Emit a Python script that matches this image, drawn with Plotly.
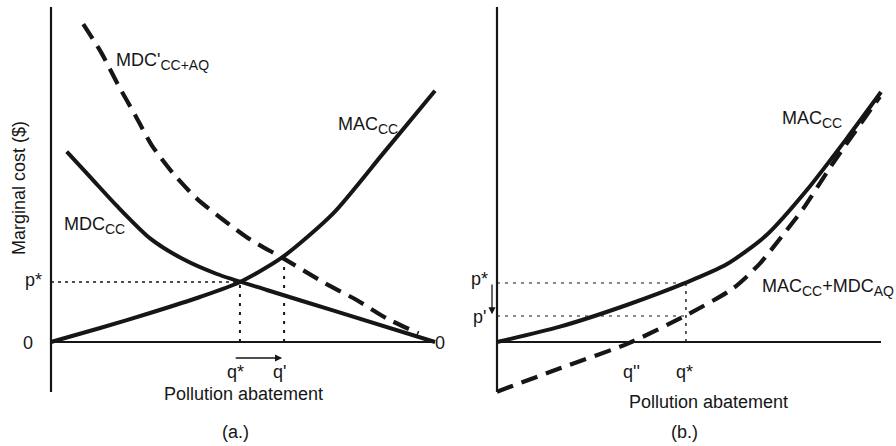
import plotly.graph_objects as go

W, H = 896, 446

# ---------------- data (abstract units) ----------------
# Panel (a)
abate_a_mac = [0, 1.28, 2.58, 3.88, 4.92, 6.01, 7.35, 8.65, 10.0]
mac_cc_a = [0, 0.42, 0.87, 1.35, 1.8, 2.53, 3.86, 5.66, 7.54]

abate_a_mdc = [0.41, 1.06, 1.71, 2.58, 3.45, 4.32, 5.62, 7.34, 10.0]
mdc_cc_a = [5.71, 4.9, 4.09, 3.11, 2.48, 2.04, 1.56, 0.95, 0]

abate_a_mdc2 = [0.84, 1.32, 1.75, 2.19, 2.62, 3.18, 3.79, 4.49, 5.18, 6.05, 7.14, 7.96, 8.74, 9.57]
mdc2_cc_aq_a = [9.54, 8.66, 7.71, 6.81, 5.91, 5.06, 4.31, 3.66, 3.08, 2.51, 1.76, 1.26, 0.71, 0.26]

p_star_a = 1.8
q_star_a = 4.92
q_prime_a = 6.07
p_prime_a = 2.54

# Panel (b)
abate_b_mac = [0, 1.64, 3.38, 4.92, 5.98, 7.02, 8.07, 9.11, 10.0]
mac_cc_b = [0, 0.46, 1.11, 1.78, 2.33, 3.21, 4.56, 6.11, 7.5]

abate_b_sum = [0, 1.64, 3.42, 4.94, 6.15, 6.85, 7.41, 7.98, 8.7, 9.97]
mac_mdc_b = [-1.49, -0.79, -0.04, 0.81, 1.61, 2.36, 3.16, 4.01, 5.28, 7.36]

p_star_b = 1.77
p_prime_b = 0.78
q_star_b = 4.92

x_axis_len = 10.0
y_axis_top = 10.05
y_axis_bottom = -1.5

# ---------------- layout geometry ----------------
PX_X = 38.4   # px per x unit
PX_Y = 33.33  # px per y unit
ORIGIN_Y = 342
A_X0, B_X0 = 51, 497
XR = [-0.25, 10.35]
YR = [-1.6, 10.2]

def xdomain(x0):
    return [(x0 + XR[0] * PX_X) / W, (x0 + XR[1] * PX_X) / W]

ydom = [(H - (ORIGIN_Y - YR[0] * PX_Y)) / H, (H - (ORIGIN_Y - YR[1] * PX_Y)) / H]

def P(px, py):
    return px / W, 1 - py / H

INK = "#161616"
FONT = "Liberation Sans, Arial, sans-serif"
FS = 18

def sub(t):
    return f"<sub><span style='font-size:14px'>{t}</span></sub>"

fig = go.Figure()

def line(x, y, xa, ya, width=4, dash="solid"):
    fig.add_trace(go.Scatter(x=x, y=y, xaxis=xa, yaxis=ya, mode="lines",
                             line=dict(color=INK, width=width, dash=dash, shape="spline", smoothing=0.7),
                             hoverinfo="skip", showlegend=False))

def straight(x, y, xa, ya, width=1.6, dash="2px,4px"):
    fig.add_trace(go.Scatter(x=x, y=y, xaxis=xa, yaxis=ya, mode="lines",
                             line=dict(color=INK, width=width, dash=dash),
                             hoverinfo="skip", showlegend=False))

# axes as lines (both panels)
for xa, ya in (("x", "y"), ("x2", "y2")):
    straight([0, 0], [y_axis_bottom, y_axis_top], xa, ya, width=2.2, dash="solid")
    straight([0, x_axis_len], [0, 0], xa, ya, width=2.2, dash="solid")

# panel (a) reference lines
straight([0, q_star_a], [p_star_a, p_star_a], "x", "y", width=1.3, dash="3px,4px")
straight([q_star_a, q_star_a], [0, p_star_a], "x", "y", width=2, dash="3px,6px")
straight([q_prime_a, q_prime_a], [0, p_prime_a], "x", "y", width=2, dash="3px,6px")

# panel (a) curves
line(abate_a_mdc2, mdc2_cc_aq_a, "x", "y", width=4.2, dash="17px,9px")
line(abate_a_mdc, mdc_cc_a, "x", "y", width=4)
line(abate_a_mac, mac_cc_a, "x", "y", width=4)

# panel (b) reference lines
straight([0, q_star_b], [p_star_b, p_star_b], "x2", "y2", width=1.2, dash="3px,5px")
straight([0, q_star_b], [p_prime_b, p_prime_b], "x2", "y2", width=1.2, dash="3px,5px")
straight([q_star_b, q_star_b], [0, p_star_b], "x2", "y2", width=1.4, dash="3px,5px")

# panel (b) curves
line(abate_b_sum, mac_mdc_b, "x2", "y2", width=4.2, dash="17px,9px")
line(abate_b_mac, mac_cc_b, "x2", "y2", width=4)

ax_common = dict(showgrid=False, zeroline=False, showline=False, showticklabels=False,
                 ticks="", fixedrange=True)
fig.update_layout(
    width=W, height=H, margin=dict(l=0, r=0, t=0, b=0),
    paper_bgcolor="white", plot_bgcolor="white",
    font=dict(family=FONT, size=FS, color=INK),
    xaxis=dict(domain=xdomain(A_X0), range=XR, anchor="y", **ax_common),
    yaxis=dict(domain=ydom, range=YR, anchor="x", **ax_common),
    xaxis2=dict(domain=xdomain(B_X0), range=XR, anchor="y2", **ax_common),
    yaxis2=dict(domain=ydom, range=YR, anchor="x2", **ax_common),
)

def text(px, py, s, xanchor="center", yanchor="middle", angle=0, size=FS):
    x, y = P(px, py)
    fig.add_annotation(x=x, y=y, xref="paper", yref="paper", text=s, showarrow=False,
                       xanchor=xanchor, yanchor=yanchor, textangle=angle,
                       font=dict(size=size, family=FONT, color=INK))

# panel (a) labels
text(19, 188, "Marginal cost ($)", angle=-90)
text(33, 280, "p*")
text(28, 343, "0")
text(440, 343, "0")
text(235, 372, "q*")
text(279, 372, "q'")
text(244, 394, "Pollution abatement")
text(235, 432, "(a.)")
text(114, 62, "MDC'" + sub("CC+AQ"), xanchor="left")
text(336, 125, "MAC" + sub("CC"), xanchor="left")
text(62, 225, "MDC" + sub("CC"), xanchor="left")

# panel (b) labels
text(479, 279, "p*")
text(479, 317, "p'")
text(631, 372, "q''")
text(684, 372, "q*")
text(708, 402, "Pollution abatement")
text(684, 432, "(b.)")
text(780, 119, "MAC" + sub("CC"), xanchor="left")
text(760, 287, "MAC" + sub("CC") + "+MDC" + sub("AQ"), xanchor="left")

# arrows
fig.add_annotation(x=q_prime_a - 0.05, y=-0.48, ax=q_star_a - 0.15, ay=-0.48,
                   xref="x", yref="y", axref="x", ayref="y", text="", showarrow=True,
                   arrowhead=2, arrowsize=1.1, arrowwidth=1.3, arrowcolor=INK)
fig.add_annotation(x=-0.13, y=p_prime_b + 0.05, ax=-0.13, ay=p_star_b,
                   xref="x2", yref="y2", axref="x2", ayref="y2", text="", showarrow=True,
                   arrowhead=2, arrowsize=1.1, arrowwidth=1.3, arrowcolor=INK)

fig.write_html("out.html", config={"displayModeBar": False},
               post_script="document.body.style.margin='0';document.body.style.overflow='hidden';")
